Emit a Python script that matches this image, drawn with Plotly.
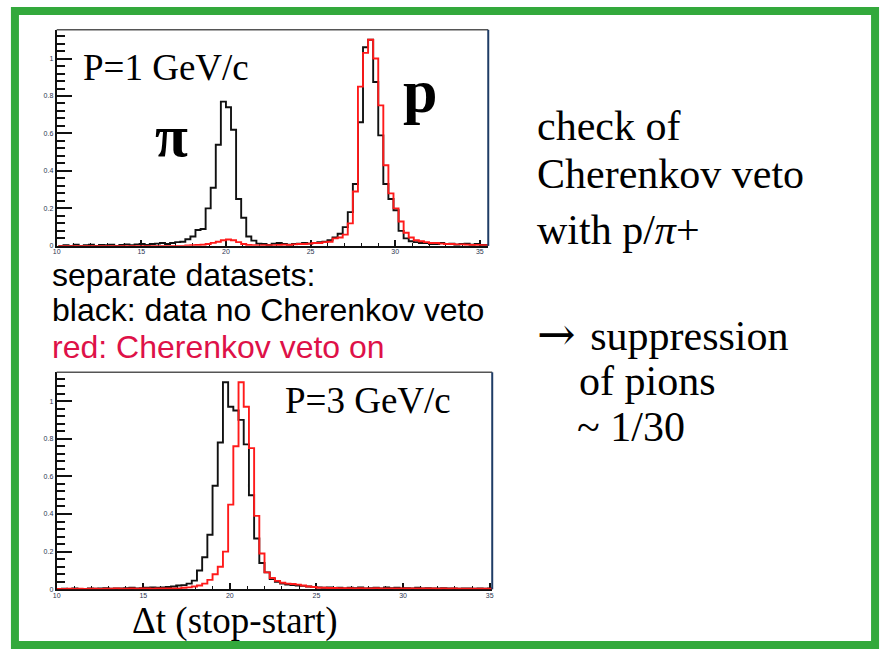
import plotly.graph_objects as go

W, H = 885, 657

# ---- histogram contents (normalised counts per 0.3 ns bin) ----
BIN_W = 0.3
top_start = 10.1      # first bin edge, P = 1 GeV/c
bot_start = 10.0      # first bin edge, P = 3 GeV/c

top_black = [0, 0.004, 0, 0.006, 0, 0.004, 0.006, 0, 0.005, 0.004,
             0.006, 0, 0.005, 0.008, 0.004, 0.008, 0.01, 0.005, 0.01, 0.012,
             0.015, 0.01, 0.015, 0.02, 0.022, 0.035, 0.05, 0.085, 0.09, 0.2,
             0.31, 0.54, 0.77, 0.74, 0.62, 0.25, 0.15, 0.05, 0.028, 0.012,
             0.01, 0.005, 0.012, 0.015, 0.01, 0.006, 0.01, 0.012, 0.015, 0.012,
             0.015, 0.02, 0.022, 0.03, 0.045, 0.065, 0.1, 0.18, 0.33, 0.66,
             1.06, 1.1, 0.875, 0.59, 0.33, 0.25, 0.19, 0.08, 0.04, 0.025,
             0.02, 0.015, 0.015, 0.01, 0.01, 0.015, 0.01, 0.012, 0.006, 0.01,
             0.012, 0.006, 0.01, 0.005, 0.005]

top_red = [0, 0, 0, 0, 0, 0, 0, 0, 0, 0,
           0, 0, 0, 0, 0, 0, 0, 0, 0, 0,
           0, 0, 0, 0, 0, 0.002, 0.003, 0.005, 0.006, 0.01,
           0.016, 0.022, 0.03, 0.034, 0.03, 0.02, 0.01, 0.005, 0.003, 0.002,
           0.003, 0.004, 0.003, 0.005, 0.006, 0.005, 0.008, 0.01, 0.01, 0.012,
           0.015, 0.015, 0.02, 0.022, 0.04, 0.045, 0.06, 0.12, 0.29, 0.85,
           1.03, 1.1, 1.0, 0.75, 0.43, 0.28, 0.2, 0.13, 0.07, 0.045,
           0.03, 0.025, 0.02, 0.015, 0.015, 0.012, 0.01, 0.01, 0.008, 0.008,
           0.006, 0.005, 0.005, 0.004, 0.004]

bot_black = [0, 0.003, 0, 0.004, 0.002, 0, 0.005, 0.003, 0.004, 0.006,
             0.003, 0.005, 0.004, 0.006, 0.008, 0.005, 0.006, 0.008, 0.01, 0.008,
             0.01, 0.012, 0.015, 0.02, 0.022, 0.03, 0.046, 0.1, 0.17, 0.29,
             0.55, 0.78, 1.1, 0.97, 0.95, 0.9, 0.77, 0.5, 0.27, 0.14,
             0.09, 0.055, 0.04, 0.03, 0.025, 0.022, 0.02, 0.018, 0.015, 0.012,
             0.01, 0.008, 0.01, 0.006, 0.008, 0.005, 0.008, 0.006, 0.01, 0.005,
             0.006, 0.008, 0.005, 0.01, 0.006, 0.008, 0.005, 0.006, 0.004, 0.008,
             0.005, 0.006, 0.004, 0.005, 0.006, 0.004, 0.005, 0.003, 0.005, 0.004,
             0.003, 0.004, 0.003, 0.004, 0.003]

bot_red = [0.002, 0.002, 0.003, 0.002, 0.003, 0.002, 0.003, 0.003, 0.002, 0.003,
           0.003, 0.004, 0.003, 0.003, 0.004, 0.003, 0.004, 0.004, 0.003, 0.004,
           0.004, 0.004, 0.004, 0.005, 0.008, 0.01, 0.015, 0.02, 0.03, 0.05,
           0.08, 0.12, 0.2, 0.45, 0.76, 1.1, 0.97, 0.75, 0.39, 0.19,
           0.09, 0.06, 0.045, 0.035, 0.03, 0.028, 0.025, 0.02, 0.015, 0.012,
           0.008, 0.008, 0.007, 0.007, 0.006, 0.006, 0.006, 0.005, 0.006, 0.005,
           0.005, 0.006, 0.005, 0.005, 0.005, 0.004, 0.005, 0.004, 0.005, 0.004,
           0.004, 0.004, 0.004, 0.003, 0.004, 0.003, 0.004, 0.003, 0.003, 0.003,
           0.003, 0.003, 0.003, 0.003, 0.003]

x_ticks = [10, 15, 20, 25, 30, 35]
y_ticks = [0, 0.2, 0.4, 0.6, 0.8, 1]
y_tick_text = ["0", "0.2", "0.4", "0.6", "0.8", "1"]

BLACK = "#111111"
RED = "#ff1a1a"
GREEN = "#33a93c"
CRIMSON = "#de1148"
NAVY = "#1f3c66"
TICK_TXT = "#2c3550"


def step_xy(start, vals):
    edges = [start + i * BIN_W for i in range(len(vals) + 1)]
    return edges, list(vals) + [vals[-1]]


def px(x):
    return x / W


def py(y):
    return 1 - y / H


fig = go.Figure()

for start, vals, col, ax in [
    (top_start, top_black, BLACK, "1"),
    (top_start, top_red, RED, "1"),
    (bot_start, bot_black, BLACK, "2"),
    (bot_start, bot_red, RED, "2"),
]:
    xs, ys = step_xy(start, vals)
    fig.add_trace(go.Scatter(
        x=xs, y=ys, mode="lines", line=dict(color=col, width=1.9, shape="hv"),
        xaxis="x" if ax == "1" else "x2", yaxis="y" if ax == "1" else "y2",
        showlegend=False, hoverinfo="skip"))

# panel frames in pixel space
panels = {
    "1": dict(l=53, r=487, t=30, b=247, xr=[10, 35.5]),
    "2": dict(l=53, r=491, t=374, b=592, xr=[10, 35.15]),
}

xa_common = dict(
    showline=True, linecolor=BLACK, linewidth=2, ticks="inside", ticklen=6,
    tickwidth=1.5, tickcolor=BLACK, tickvals=x_ticks, showgrid=False, zeroline=False,
    tickfont=dict(family="Liberation Sans", size=7, color=TICK_TXT),
    ticklabelstandoff=-2,
    minor=dict(dtick=1, ticks="inside", ticklen=3, tickwidth=1.2, tickcolor=BLACK),
    layer="below traces", fixedrange=True,
)
ya_common = dict(
    showline=True, linecolor=BLACK, linewidth=2, ticks="inside", ticklen=15,
    tickwidth=2, tickcolor=BLACK, tickvals=y_ticks, ticktext=y_tick_text,
    range=[0, 1.153], showgrid=False, zeroline=False,
    tickfont=dict(family="Liberation Sans", size=7, color=TICK_TXT),
    minor=dict(dtick=0.04, ticks="inside", ticklen=8, tickwidth=1.5, tickcolor=BLACK),
    layer="below traces", fixedrange=True,
)

p1, p2 = panels["1"], panels["2"]
fig.update_layout(
    width=W, height=H, margin=dict(l=0, r=0, t=0, b=0),
    paper_bgcolor="white", plot_bgcolor="white",
    xaxis=dict(domain=[px(p1["l"]), px(p1["r"])], range=p1["xr"], anchor="y", **xa_common),
    yaxis=dict(domain=[py(p1["b"]), py(p1["t"])], anchor="x", **ya_common),
    xaxis2=dict(domain=[px(p2["l"]), px(p2["r"])], range=p2["xr"], anchor="y2", **xa_common),
    yaxis2=dict(domain=[py(p2["b"]), py(p2["t"])], anchor="x2", **ya_common),
)

shapes = []
for p in (p1, p2):
    shapes.append(dict(type="line", xref="paper", yref="paper",
                       x0=px(p["l"]), x1=px(p["r"]), y0=py(p["t"]), y1=py(p["t"]),
                       line=dict(color="#555555", width=1.5)))
    shapes.append(dict(type="line", xref="paper", yref="paper",
                       x0=px(p["r"]), x1=px(p["r"]), y0=py(p["b"]), y1=py(p["t"]),
                       line=dict(color=NAVY, width=2)))
# slide border
shapes.append(dict(type="rect", xref="paper", yref="paper",
                   x0=px(11), x1=px(876), y0=py(648), y1=py(11),
                   line=dict(color=GREEN, width=8)))
fig.update_layout(shapes=shapes)

SERIF = "Liberation Serif"
SANS = "Liberation Sans"


def label(text, x, baseline, size, family, color="black", asc=0.891, desc=0.216):
    # place a single text line by its left edge and baseline (pixels)
    centre = baseline - (asc - desc) / 2 * size
    fig.add_annotation(text=text, x=px(x), y=py(centre), xref="paper", yref="paper",
                       xanchor="left", yanchor="middle", showarrow=False,
                       borderpad=0, font=dict(family=family, size=size, color=color))


label("P=1 GeV/c", 78, 80, 37, SERIF)
label("P=3 GeV/c", 282, 415, 37, SERIF)
label("<b>π</b>", 151, 157, 60, SERIF)
label("<b>p</b>", 400, 112, 62, SERIF)
label("Δt (stop-start)", 128, 636, 37, SERIF)

label("separate datasets:", 47, 287, 32, SANS, asc=0.905, desc=0.212)
label("black: data no Cherenkov veto", 47, 323, 32, SANS, asc=0.905, desc=0.212)
label("red: Cherenkov veto on", 47, 360, 32, SANS, color=CRIMSON, asc=0.905, desc=0.212)

label("check of", 535, 141, 42, SERIF)
label("Cherenkov veto", 535, 189, 42, SERIF)
label("with p/<i>π</i>+", 535, 245, 42, SERIF)
label("<span style='font-family:DejaVu Serif;font-size:46px'>→ </span>suppression",
      535, 350, 42, SERIF)
label("of pions", 577, 397, 42, SERIF)
label("~ 1/30", 575, 443, 42, SERIF)

fig.write_html("out.html")
